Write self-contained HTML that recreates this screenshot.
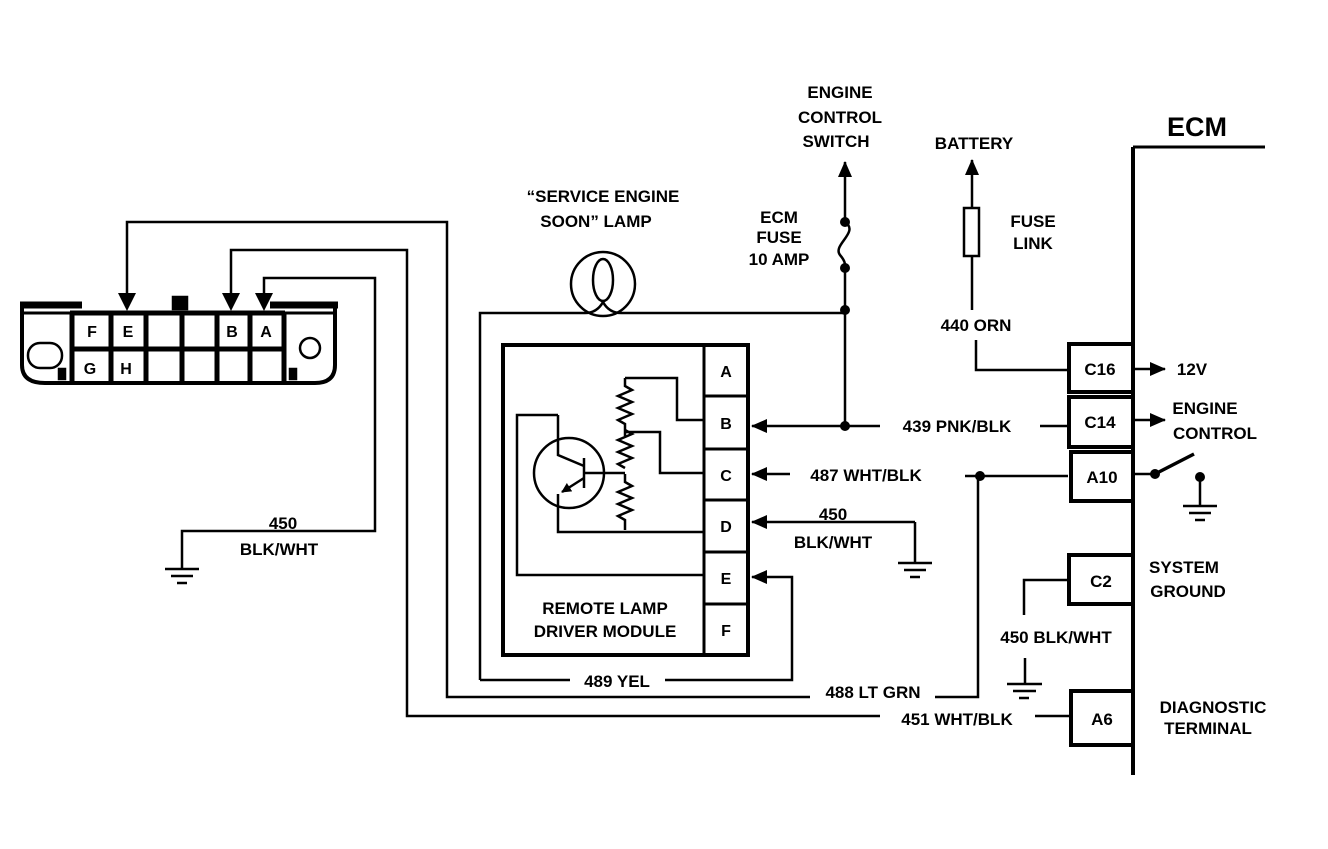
<!DOCTYPE html>
<html><head><style>
html,body{margin:0;padding:0;background:#fff;}
svg text{font-family:"Liberation Sans",sans-serif;font-weight:bold;fill:#000;}
</style></head><body>
<svg width="1328" height="844" viewBox="0 0 1328 844" xmlns="http://www.w3.org/2000/svg">
<defs>
<marker id="ar" markerWidth="10" markerHeight="10" refX="9" refY="5" orient="auto" markerUnits="userSpaceOnUse" viewBox="0 0 10 10"><path d="M0,0 L10,5 L0,10 z" fill="#000"/></marker>
<marker id="ar2" markerWidth="16" markerHeight="14" refX="15" refY="7" orient="auto" markerUnits="userSpaceOnUse" viewBox="0 0 16 14"><path d="M0,0 L16,7 L0,14 z" fill="#000"/></marker>
</defs>
<g fill="none" stroke="#000" stroke-width="2.5">
<!-- DLC connector -->
<path d="M22,308 V365 Q22,383 45,383 H315 Q335,383 335,365 V308" stroke-width="4"/>
<line x1="20" y1="305" x2="82" y2="305" stroke-width="7"/>
<line x1="270" y1="305" x2="338" y2="305" stroke-width="7"/>
<rect x="173" y="297" width="14" height="12" fill="#000"/>
<line x1="70" y1="313" x2="285" y2="313" stroke-width="5"/>
<line x1="22" y1="313" x2="70" y2="313" stroke-width="3"/>
<line x1="285" y1="313" x2="335" y2="313" stroke-width="3"/>
<line x1="72" y1="313" x2="72" y2="382" stroke-width="5"/>
<line x1="111" y1="313" x2="111" y2="382" stroke-width="5"/>
<line x1="146" y1="313" x2="146" y2="382" stroke-width="5"/>
<line x1="182" y1="313" x2="182" y2="382" stroke-width="5"/>
<line x1="217" y1="313" x2="217" y2="382" stroke-width="5"/>
<line x1="250" y1="313" x2="250" y2="382" stroke-width="5"/>
<line x1="284" y1="313" x2="284" y2="382" stroke-width="5"/>
<line x1="72" y1="349" x2="284" y2="349" stroke-width="5"/>
<rect x="28" y="343" width="34" height="25" rx="12"/>
<circle cx="310" cy="348" r="10"/>
<rect x="59" y="369" width="6" height="10" fill="#000"/>
<rect x="290" y="369" width="6" height="10" fill="#000"/>
<!-- wires from connector -->
<path d="M127,295 V222 H447 V697 H810"/>
<path d="M935,697 H978 V476"/>
<path d="M231,295 V250 H407 V716 H880"/>
<line x1="1035" y1="716" x2="1070" y2="716"/>
<path d="M264,295 V278 H375 V531 H182 V568"/>
<line x1="165" y1="569" x2="199" y2="569"/><line x1="171" y1="576" x2="193" y2="576"/><line x1="177" y1="583" x2="187" y2="583"/>
<!-- lamp -->
<circle cx="603" cy="284" r="32"/>
<ellipse cx="603" cy="280" rx="10" ry="21"/>
<path d="M480,680 V313 H585 Q597,313 603,302 Q609,313 621,313 H845"/>
<!-- fuse column -->
<line x1="845" y1="222" x2="845" y2="162" marker-end="url(#ar2)"/>
<path d="M845,222 C860,232 832,245 840,255 C846,262 845,265 845,268"/>
<line x1="845" y1="268" x2="845" y2="426"/>
<line x1="1040" y1="426" x2="1068" y2="426"/>
<path d="M880,426 H752" marker-end="url(#ar2)"/>
<!-- module -->
<rect x="503" y="345" width="245" height="310" stroke-width="4"/>
<line x1="704" y1="345" x2="704" y2="655" stroke-width="3"/>
<line x1="704" y1="396" x2="748" y2="396" stroke-width="3"/>
<line x1="704" y1="449" x2="748" y2="449" stroke-width="3"/>
<line x1="704" y1="500" x2="748" y2="500" stroke-width="3"/>
<line x1="704" y1="552" x2="748" y2="552" stroke-width="3"/>
<line x1="704" y1="604" x2="748" y2="604" stroke-width="3"/>
<circle cx="569" cy="473" r="35"/>
<path d="M558,415 V455 L584,466"/>
<line x1="584" y1="458" x2="584" y2="488"/>
<path d="M584,478 L562,492" marker-end="url(#ar)"/>
<path d="M558,494 V532 H704"/>
<path d="M558,415 H517 V575 H704"/>
<line x1="584" y1="473" x2="625" y2="473"/>
<path d="M625,378 H677 V420 H704"/>
<path d="M625,378 v8 l7,4 l-14,6 l14,6 l-14,6 l14,6 l-14,6 l7,4 v12"/>
<path d="M625,430 l7,4 l-14,6 l14,6 l-14,6 l14,6 l-14,6 l7,4"/>
<path d="M625,474 v8 l7,4 l-14,6 l14,6 l-14,6 l14,6 l-14,6 l7,4 v10"/>
<path d="M625,432 H660 V473 H704"/>
<!-- C line -->
<path d="M790,474 H752" marker-end="url(#ar2)"/>
<line x1="965" y1="476" x2="1068" y2="476"/>
<!-- D line -->
<path d="M915,522 H752" marker-end="url(#ar2)"/>
<line x1="915" y1="522" x2="915" y2="562"/>
<line x1="898" y1="563" x2="932" y2="563"/><line x1="904" y1="570" x2="926" y2="570"/><line x1="910" y1="577" x2="920" y2="577"/>
<!-- E line / 489 -->
<path d="M480,680 H570"/>
<path d="M665,680 H792 V577 H752" marker-end="url(#ar2)"/>
<!-- battery -->
<line x1="972" y1="208" x2="972" y2="160" marker-end="url(#ar2)"/>
<rect x="964" y="208" width="15" height="48"/>
<line x1="972" y1="256" x2="972" y2="310"/>
<path d="M976,340 V370 H1068"/>
<!-- ECM -->
<line x1="1133" y1="147" x2="1133" y2="775" stroke-width="4"/>
<line x1="1133" y1="147" x2="1265" y2="147" stroke-width="3"/>
<rect x="1069" y="344" width="64" height="48" stroke-width="4"/>
<rect x="1069" y="397" width="64" height="50" stroke-width="4"/>
<rect x="1071" y="452" width="62" height="49" stroke-width="4"/>
<rect x="1069" y="555" width="64" height="49" stroke-width="4"/>
<rect x="1071" y="691" width="62" height="54" stroke-width="4"/>
<line x1="1133" y1="369" x2="1165" y2="369" marker-end="url(#ar2)"/>
<line x1="1133" y1="420" x2="1165" y2="420" marker-end="url(#ar2)"/>
<line x1="1133" y1="474" x2="1155" y2="474"/>
<line x1="1155" y1="474" x2="1194" y2="454" stroke-width="3.5"/>
<line x1="1200" y1="477" x2="1200" y2="505"/>
<line x1="1183" y1="506" x2="1217" y2="506"/><line x1="1189" y1="513" x2="1211" y2="513"/><line x1="1195" y1="520" x2="1205" y2="520"/>
<path d="M1069,580 H1024 V615"/>
<line x1="1025" y1="658" x2="1025" y2="683"/>
<line x1="1007" y1="684" x2="1042" y2="684"/><line x1="1013" y1="691" x2="1036" y2="691"/><line x1="1019" y1="698" x2="1029" y2="698"/>
</g>
<g fill="#000">
<path d="M118,293 H136 L127,311 Z"/>
<path d="M222,293 H240 L231,311 Z"/>
<path d="M255,293 H273 L264,311 Z"/>
<circle cx="845" cy="222" r="5"/><circle cx="845" cy="268" r="5"/><circle cx="845" cy="310" r="5"/><circle cx="845" cy="426" r="5"/>
<circle cx="980" cy="476" r="5"/><circle cx="1155" cy="474" r="5"/><circle cx="1200" cy="477" r="5"/>
</g>
<g font-size="16" text-anchor="middle">
<text x="92" y="337">F</text><text x="128" y="337">E</text><text x="232" y="337">B</text><text x="266" y="337">A</text>
<text x="90" y="374">G</text><text x="126" y="374">H</text>
<text x="726" y="377">A</text><text x="726" y="429">B</text><text x="726" y="481">C</text><text x="726" y="532">D</text><text x="726" y="584">E</text><text x="726" y="636">F</text>
</g>
<g font-size="17" text-anchor="middle">
<text x="283" y="529">450</text><text x="279" y="555">BLK/WHT</text>
<text x="603" y="202">“SERVICE ENGINE</text><text x="596" y="227">SOON” LAMP</text>
<text x="840" y="98">ENGINE</text><text x="840" y="123">CONTROL</text><text x="836" y="147">SWITCH</text>
<text x="779" y="223">ECM</text><text x="779" y="243">FUSE</text><text x="779" y="265">10 AMP</text>
<text x="974" y="149">BATTERY</text>
<text x="1033" y="227">FUSE</text><text x="1033" y="249">LINK</text>
<text x="976" y="331">440 ORN</text>
<text x="957" y="432">439 PNK/BLK</text>
<text x="866" y="481">487 WHT/BLK</text>
<text x="833" y="520">450</text><text x="833" y="548">BLK/WHT</text>
<text x="605" y="614">REMOTE LAMP</text><text x="605" y="637">DRIVER MODULE</text>
<text x="617" y="687">489 YEL</text>
<text x="873" y="698">488 LT GRN</text>
<text x="957" y="725">451 WHT/BLK</text>
<text x="1100" y="375">C16</text><text x="1100" y="428">C14</text><text x="1102" y="483">A10</text><text x="1101" y="587">C2</text><text x="1102" y="725">A6</text>
<text x="1192" y="375">12V</text>
<text x="1205" y="414">ENGINE</text><text x="1215" y="439">CONTROL</text>
<text x="1184" y="573">SYSTEM</text><text x="1188" y="597">GROUND</text>
<text x="1056" y="643">450 BLK/WHT</text>
<text x="1213" y="713">DIAGNOSTIC</text><text x="1208" y="734">TERMINAL</text>
</g>
<text x="1197" y="136" font-size="27" text-anchor="middle">ECM</text>
</svg>
</body></html>
